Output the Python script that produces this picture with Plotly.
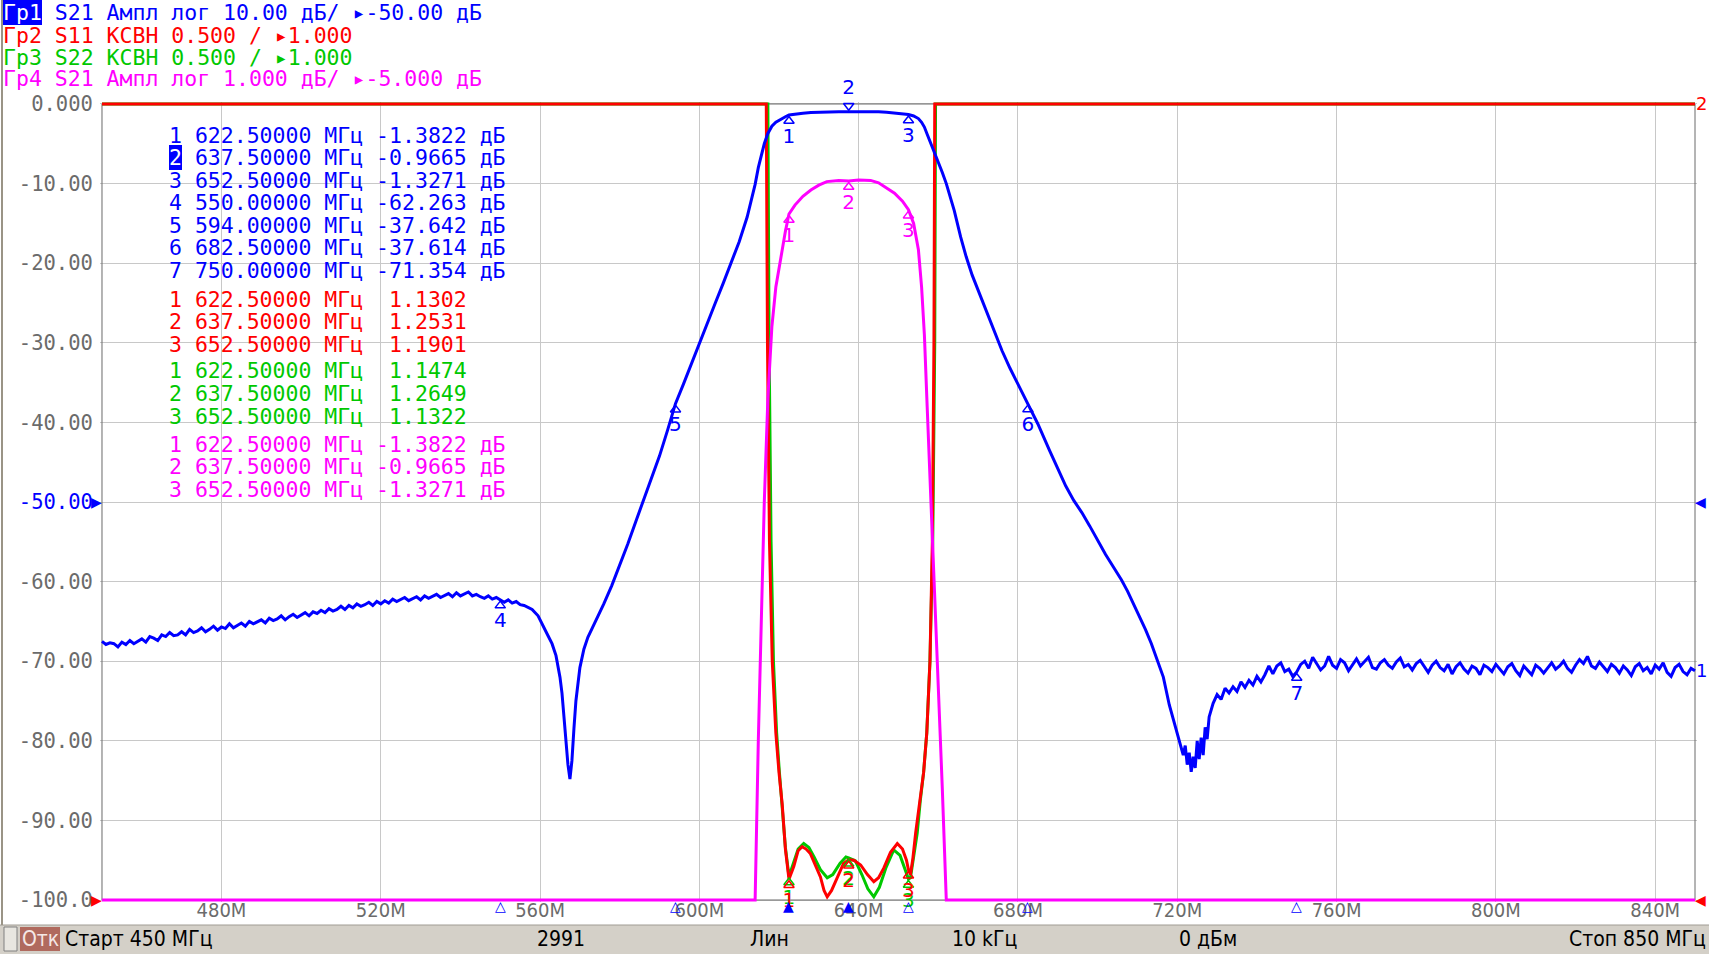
import numpy as np
import plotly.graph_objects as go

# ---------------- DATA ----------------
# Гр1 / Гр4 : S21 magnitude, dB  (three sweep segments)
s21_lo_freq = list(range(450, 559))
s21_lo_db = [-67.5, -67.9, -67.7, -67.8, -68.2, -67.6, -67.9, -67.4, -67.8, -67.5,
             -67.2, -67.6, -66.9, -67.1, -67.4, -66.7, -66.9, -66.4, -66.8, -66.7,
             -66.3, -66.7, -66.0, -66.4, -66.2, -65.8, -66.3, -66.0, -65.6, -66.1,
             -65.7, -65.9, -65.3, -65.8, -65.5, -65.2, -65.6, -65.0, -65.3, -65.1,
             -64.8, -65.2, -64.6, -64.9, -64.7, -64.3, -64.8, -64.4, -64.1, -64.5,
             -64.2, -63.9, -64.3, -63.8, -64.0, -63.6, -63.9, -63.4, -63.7, -63.5,
             -63.1, -63.5, -63.0, -63.3, -62.8, -63.1, -62.9, -62.6, -63.0, -62.5,
             -62.8, -62.4, -62.7, -62.2, -62.5, -62.3, -62.0, -62.4, -62.1, -61.9,
             -62.3, -61.8, -62.1, -61.9, -61.6, -62.0, -61.7, -61.5, -61.9, -61.4,
             -61.8, -61.6, -61.3, -61.8, -61.6, -61.9, -62.1, -61.8, -62.2, -62.0,
             -62.263, -62.6, -62.3, -62.7, -62.5, -62.9, -63.0, -63.2, -63.5]
s21_mid_freq = [559.5, 561, 562, 563, 564, 565, 565.5, 566, 566.5, 567, 567.5, 568, 568.5, 569, 570, 571, 572, 574, 576, 578,
                580, 582, 584, 586, 588, 590, 592, 594, 596, 598, 600, 602, 604, 606, 608, 610, 612, 613, 614, 614.8,
                615.5, 616.3, 617.2, 618.2, 619.2, 620.0, 620.8, 621.6, 622.5, 624, 626, 628, 630, 632, 635, 637.5, 640, 643, 645, 647,
                649, 651, 652.5, 653.8, 655, 655.8, 656.5, 657.2, 658, 659, 660, 661, 662, 663, 664, 665.6, 667, 668.5, 670, 672,
                674, 676, 678, 680, 682.5, 685, 688, 690, 692, 694, 696, 698, 700, 702, 704, 706, 707.5, 709, 710.5, 712,
                713.5, 715, 716.5, 718, 719.5, 720.5, 721.5, 722, 722.5, 723, 723.5, 724, 724.5, 725, 725.5, 726, 726.5, 727, 727.5, 728,
                729, 730, 731, 732, 733, 734, 735, 736, 737, 738, 739, 740, 741, 742, 743]
s21_mid_db = [-64.3, -65.7, -66.8, -67.8, -69.3, -72.0, -74.0, -77.0, -80.0, -83.0, -84.8, -82.5, -78.5, -75.0, -70.8, -68.5, -67.0, -65.0, -62.8, -60.5,
              -58.0, -55.3, -52.5, -49.7, -47.0, -44.2, -41.0, -37.642, -35.2, -32.6, -30.0, -27.5, -25.0, -22.5, -20.0, -17.3, -14.2, -12.2, -10.1, -8.0,
              -6.4, -5.0, -3.7, -2.8, -2.3, -2.05, -1.83, -1.6, -1.3822, -1.27, -1.16, -1.08, -1.02, -0.975, -0.96, -0.9665, -0.955, -0.96, -0.99, -1.05,
              -1.12, -1.22, -1.3271, -1.5, -1.83, -2.3, -2.9, -3.8, -4.8, -6.0, -7.3, -8.6, -10.0, -11.7, -13.4, -16.7, -19.2, -21.5, -23.4, -26.0,
              -28.6, -31.0, -33.2, -35.2, -37.614, -40.2, -43.6, -45.9, -48.0, -49.8, -51.3, -53.0, -54.8, -56.6, -58.2, -59.8, -61.2, -62.8, -64.3, -66.0,
              -67.8, -69.8, -72.0, -75.5, -78.2, -80.0, -81.8, -80.6, -83.0, -81.5, -83.9, -82.0, -83.4, -80.0, -82.3, -79.6, -81.8, -78.3, -79.8, -77.0,
              -75.3, -74.2, -74.8, -73.4, -74.0, -73.2, -73.8, -72.6, -73.3, -72.4, -73.0, -71.9, -72.6, -71.7, -70.6]
s21_hi_freq = list(range(744, 851))
s21_hi_db = [-71.6, -70.6, -70.2, -71.3, -71.0, -71.9, -71.354, -70.4, -70.0, -70.9,
             -69.5, -70.3, -71.1, -70.6, -69.4, -70.5, -70.9, -69.8, -70.2, -71.2,
             -70.4, -69.7, -70.6, -70.1, -69.5, -70.8, -71.0, -70.2, -69.8, -70.5,
             -70.9, -70.1, -69.6, -70.7, -70.4, -71.1, -70.3, -69.9, -70.6, -71.4,
             -70.5, -70.0, -70.8, -71.2, -70.4, -71.6, -70.7, -70.2, -71.0, -71.5,
             -70.6, -70.9, -71.7, -70.5, -70.8, -71.3, -70.4, -71.0, -71.6, -70.7,
             -70.3, -71.2, -71.8, -70.6, -71.1, -71.7, -70.5, -70.9, -71.5, -70.8,
             -70.2, -71.0, -70.6, -70.0, -70.9, -71.4, -70.5, -69.8, -70.3, -69.4,
             -70.6, -70.9, -70.1, -70.7, -71.3, -70.4, -70.8, -71.5, -70.6, -71.1,
             -71.8, -70.7, -70.3, -71.2, -70.8, -71.6, -70.5, -71.0, -70.2, -71.4,
             -71.9, -70.8, -70.4, -71.3, -71.7, -70.9, -71.2]

# Гр2 : S11 VSWR
s11_freq = [450, 616.6, 616.8, 617.1, 617.6, 618.3, 619.2, 620.0, 620.8, 621.6, 622.5, 623.7, 624.8, 625.8, 626.8, 627.9,
            629.2, 630.4, 631.3, 632.1, 633.2, 634.6, 636.2, 637.5, 638.8, 640.5, 642.2, 643.8, 645.0, 646.3, 648.0, 649.7,
            651.0, 652.0, 652.5, 653.0, 653.6, 654.3, 655.5, 656.3, 657.1, 657.9, 658.5, 658.9, 659.1, 659.3, 850]
s11_vswr = [20.0, 20.0, 6.5, 4.5, 3.25, 2.5, 2.05, 1.8, 1.6, 1.32, 1.1302, 1.21, 1.31, 1.335, 1.32, 1.29,
            1.21, 1.145, 1.06, 1.02, 1.06, 1.145, 1.23, 1.2531, 1.25, 1.22, 1.16, 1.115, 1.14, 1.2, 1.3, 1.355,
            1.32, 1.25, 1.1901, 1.16, 1.26, 1.42, 1.63, 1.8, 2.05, 2.5, 3.25, 4.5, 6.5, 20.0, 20.0]

# Гр3 : S22 VSWR
s22_freq = [450, 617.0, 617.2, 617.5, 618.0, 618.6, 619.4, 620.1, 620.8, 621.6, 622.5, 623.5, 624.8, 626.2, 627.5, 628.8,
            630.4, 632.1, 633.5, 635.3, 636.8, 637.5, 639.2, 640.8, 642.3, 643.8, 645.2, 646.8, 648.8, 650.4, 651.6, 652.5,
            653.0, 653.8, 654.7, 655.5, 656.3, 657.1, 657.9, 658.6, 659.1, 659.3, 659.5, 850]
s22_vswr = [20.0, 20.0, 6.5, 4.5, 3.25, 2.5, 2.05, 1.8, 1.6, 1.33, 1.1474, 1.22, 1.32, 1.355, 1.33, 1.27,
            1.19, 1.14, 1.16, 1.23, 1.27, 1.2649, 1.245, 1.16, 1.07, 1.02, 1.08, 1.2, 1.315, 1.28, 1.2, 1.1322,
            1.14, 1.27, 1.42, 1.63, 1.8, 2.05, 2.5, 3.25, 4.5, 6.5, 20.0, 20.0]

# markers
mk_freq = [622.5, 637.5, 652.5, 550.0, 594.0, 682.5, 750.0]
mk_s21_db = [-1.3822, -0.9665, -1.3271, -62.263, -37.642, -37.614, -71.354]
mk_s11_vswr = [1.1302, 1.2531, 1.1901]
mk_s22_vswr = [1.1474, 1.2649, 1.1322]
mk_s21b_db = [-1.3822, -0.9665, -1.3271]

x_tick_vals = [480, 520, 560, 600, 640, 680, 720, 760, 800, 840]
x_tick_text = ["480M", "520M", "560M", "600M", "640M", "680M", "720M", "760M", "800M", "840M"]
y_tick_vals = [0, -10, -20, -30, -40, -50, -60, -70, -80, -90, -100]
y_tick_text = ["0.000", "-10.00", "-20.00", "-30.00", "-40.00", "-50.00", "-60.00", "-70.00", "-80.00", "-90.00", "-100.0"]

header_lines = ["Гр1 S21 Ампл лог 10.00 дБ/ ▸-50.00 дБ",
                "Гр2 S11 КСВН 0.500 / ▸1.000",
                "Гр3 S22 КСВН 0.500 / ▸1.000",
                "Гр4 S21 Ампл лог 1.000 дБ/ ▸-5.000 дБ"]
status_items = ["Старт 450 МГц", "2991", "Лин", "10 kГц", "0 дБм", "Стоп 850 МГц"]

# display scale per trace: (scale per div, reference value, reference division)
SC_T1 = (10.0, -50.0, 5)
SC_T2 = (0.5, 1.0, 0)
SC_T3 = (0.5, 1.0, 0)
SC_T4 = (1.0, -5.0, 5)

assert len(s21_lo_freq) == len(s21_lo_db)
assert len(s21_mid_freq) == len(s21_mid_db)
assert len(s21_hi_freq) == len(s21_hi_db)
s21_freq = s21_lo_freq + s21_mid_freq + s21_hi_freq
s21_db = s21_lo_db + s21_mid_db + s21_hi_db

# ---------------- STYLE ----------------
BLUE, RED, GREEN, MAG = "#0000ff", "#ff0000", "#00c800", "#ff00ff"
GRID, FRAME, TICKC = "#c8c8c8", "#6a6a6a", "#6b6b6b"
MONO = "DejaVu Sans Mono"
NARROW = "Liberation Sans Narrow, DejaVu Sans Condensed, Arial Narrow, sans-serif"
SANS = "DejaVu Sans"

W, H = 1709, 954
ML, MR, MT, MB = 100, 12, 102, 52
X0, X1 = 449.5, 850.5
Y0, Y1 = -100.25, 0.25
PW, PH = W - ML - MR, H - MT - MB
UPP = (Y1 - Y0) / PH   # y units per pixel


def screen(vals, sc):
    scale, ref, refdiv = sc
    v = np.asarray(vals, dtype=float)
    return np.clip(-100.0 + 10.0 * (refdiv + (v - ref) / scale), -100.0, 0.0)


def pxx(xp):
    return (xp - ML) / PW


def pxy(yp):
    return (H - MB - yp) / PH


def nb(s):
    return s.replace(" ", "\u00a0")


fig = go.Figure()

# traces
fig.add_trace(go.Scatter(x=s22_freq, y=screen(s22_vswr, SC_T3), mode="lines",
                         line=dict(color=GREEN, width=3), hoverinfo="skip"))
fig.add_trace(go.Scatter(x=s11_freq, y=screen(s11_vswr, SC_T2), mode="lines",
                         line=dict(color=RED, width=3), hoverinfo="skip"))
fig.add_trace(go.Scatter(x=s21_freq, y=screen(s21_db, SC_T4), mode="lines",
                         line=dict(color=MAG, width=3), hoverinfo="skip"))
fig.add_trace(go.Scatter(x=s21_freq, y=screen(s21_db, SC_T1), mode="lines",
                         line=dict(color=BLUE, width=3), hoverinfo="skip"))

off = 6 * UPP


def marker_trace(xs, ys, color, labels, below=True, size=9):
    fig.add_trace(go.Scatter(
        x=xs, y=(np.asarray(ys) - off) if below else (np.asarray(ys) + off),
        mode="markers+text", text=labels,
        textposition="bottom center" if below else "top center",
        textfont=dict(family=SANS, size=20, color=color),
        marker=dict(symbol="triangle-up-open" if below else "triangle-down-open",
                    size=size, color=color, line=dict(width=1.5, color=color)),
        cliponaxis=False, hoverinfo="skip"))


# marker symbols on traces
t1_y = screen(mk_s21_db, SC_T1)
idx_below = [0, 2, 3, 4, 5, 6]
marker_trace([mk_freq[i] for i in idx_below], [t1_y[i] for i in idx_below], BLUE,
             [str(i + 1) for i in idx_below], below=True)
marker_trace([mk_freq[1]], [t1_y[1]], BLUE, ["2"], below=False)
marker_trace(mk_freq[:3], screen(mk_s21b_db, SC_T4), MAG, ["1", "2", "3"])
marker_trace(mk_freq[:3], screen(mk_s22_vswr, SC_T3), GREEN, ["1", "2", "3"])
marker_trace(mk_freq[:3], screen(mk_s11_vswr, SC_T2), RED, ["1", "2", "3"])

# marker position indicators along the bottom edge
filled = [True, True, False, False, False, False, False]
for f, fl in zip(mk_freq, filled):
    fig.add_annotation(x=f, y=-100, xref="x", yref="y", text="▲" if fl else "△",
                       showarrow=False, yanchor="top", yshift=2, borderpad=0, borderwidth=0,
                       font=dict(family=SANS, size=14, color=BLUE))

# reference level pointers
for xv, yv, col, glyph, anc in [(450, -50, BLUE, "▶", "right"), (850, -50, BLUE, "◀", "left"),
                                (450, -100, RED, "▶", "right"), (850, -100, RED, "◀", "left")]:
    fig.add_annotation(x=xv, y=yv, xref="x", yref="y", text=glyph, showarrow=False,
                       xanchor=anc, yanchor="middle", borderpad=0, borderwidth=0,
                       font=dict(family=SANS, size=14, color=col))

# frame
fig.add_shape(type="rect", xref="x", yref="y", x0=450, x1=850, y0=-100, y1=0,
              line=dict(color=FRAME, width=1), layer="between")

# trace end labels
fig.add_annotation(x=850, y=float(screen([s21_db[-1]], SC_T1)[0]), xref="x", yref="y",
                   text="1", showarrow=False, xanchor="left", xshift=1, borderpad=0, borderwidth=0,
                   font=dict(family=SANS, size=18, color=BLUE))
fig.add_annotation(x=850, y=0, xref="x", yref="y", text="2", showarrow=False,
                   xanchor="left", xshift=1, borderpad=0, borderwidth=0,
                   font=dict(family=SANS, size=18, color=RED))


def add_text(xp, yp, text, color, size=21.5, family=MONO, xanchor="left", bg=None):
    fig.add_annotation(x=pxx(xp), y=pxy(yp), xref="paper", yref="paper",
                       text=nb(text), showarrow=False, xanchor=xanchor, yanchor="middle",
                       font=dict(family=family, size=size, color=color),
                       bgcolor=bg, borderpad=0, borderwidth=0)


# header
hdr_colors = [BLUE, RED, GREEN, MAG]
hdr_y = [13, 35, 57, 78.5]
for line, c, y in zip(header_lines, hdr_colors, hdr_y):
    if c == BLUE:
        add_text(3, y, "   " + line[3:], c)
        add_text(3, y, line[:3], "#ffffff", bg=BLUE)
    else:
        add_text(3, y, line, c)


# marker table
def fmt_db(v):
    return f"{v:.3f}" if abs(v) >= 10 else f"{v:.4f}"


TX = 169
blue_y = [135, 157.5, 180, 202.5, 225, 247.5, 270]
for i, (f, v) in enumerate(zip(mk_freq, mk_s21_db)):
    row = f"{i + 1} {f:.5f} МГц {fmt_db(v)} дБ"
    if i == 1:
        add_text(TX, blue_y[i], " " + row[1:], BLUE)
        add_text(TX, blue_y[i], row[0], "#ffffff", bg=BLUE)
    else:
        add_text(TX, blue_y[i], row, BLUE)
for i, (f, v) in enumerate(zip(mk_freq[:3], mk_s11_vswr)):
    add_text(TX, [299.5, 321.5, 344][i], f"{i + 1} {f:.5f} МГц  {v:.4f}", RED)
for i, (f, v) in enumerate(zip(mk_freq[:3], mk_s22_vswr)):
    add_text(TX, [370.5, 393.5, 416.5][i], f"{i + 1} {f:.5f} МГц  {v:.4f}", GREEN)
for i, (f, v) in enumerate(zip(mk_freq[:3], mk_s21b_db)):
    add_text(TX, [444.5, 466.5, 489.5][i], f"{i + 1} {f:.5f} МГц {fmt_db(v)} дБ", MAG)

# status bar
fig.add_shape(type="rect", xref="paper", yref="paper", x0=pxx(0), x1=pxx(W), y0=pxy(H), y1=pxy(925),
              fillcolor="#d4d0c8", line=dict(width=0), layer="above")
fig.add_shape(type="line", xref="paper", yref="paper", x0=pxx(0), x1=pxx(W), y0=pxy(925), y1=pxy(925),
              line=dict(color="#a09c94", width=1), layer="above")
fig.add_shape(type="rect", xref="paper", yref="paper", x0=pxx(4), x1=pxx(17), y0=pxy(951), y1=pxy(927),
              fillcolor="#e8e6e0", line=dict(color="#808080", width=1), layer="above")
fig.add_shape(type="rect", xref="paper", yref="paper", x0=pxx(20), x1=pxx(60), y0=pxy(951), y1=pxy(927),
              fillcolor="#b06a5e", line=dict(width=0), layer="above")
fig.add_shape(type="line", xref="paper", yref="paper", x0=pxx(2), x1=pxx(2), y0=pxy(925), y1=pxy(0),
              line=dict(color="#9a9486", width=2), layer="above")
add_text(40, 938.5, "Отк", "#f4e8e6", size=21, family=NARROW, xanchor="center")
st_x = [65, 561, 769, 984, 1208, 1706]
st_anchor = ["left", "center", "center", "center", "center", "right"]
for s, x, a in zip(status_items, st_x, st_anchor):
    add_text(x, 938.5, s, "#000000", size=21, family=NARROW, xanchor=a)

yt = [f'<span style="color:{BLUE}">{t}</span>' if v == -50 else t for v, t in zip(y_tick_vals, y_tick_text)]

fig.update_layout(
    width=W, height=H, autosize=False,
    margin=dict(l=ML, r=MR, t=MT, b=MB, pad=0),
    paper_bgcolor="#ffffff", plot_bgcolor="#ffffff",
    showlegend=False,
    xaxis=dict(range=[X0, X1], tickmode="array", tickvals=x_tick_vals, ticktext=x_tick_text,
               showgrid=True, gridcolor=GRID, gridwidth=1, zeroline=False, showline=False,
               ticks="", ticklabelstandoff=-6,
               tickfont=dict(family=NARROW, size=20, color=TICKC), fixedrange=True),
    yaxis=dict(range=[Y0, Y1], tickmode="array", tickvals=y_tick_vals, ticktext=yt,
               showgrid=True, gridcolor=GRID, gridwidth=1, zeroline=False, showline=False,
               ticks="outside", ticklen=2, tickcolor="rgba(0,0,0,0)",
               tickfont=dict(family=MONO, size=20.5, color=TICKC), fixedrange=True),
)

fig.write_html("out.html", config={"staticPlot": True},
               post_script="document.body.style.margin='0';document.body.style.overflow='hidden';")
